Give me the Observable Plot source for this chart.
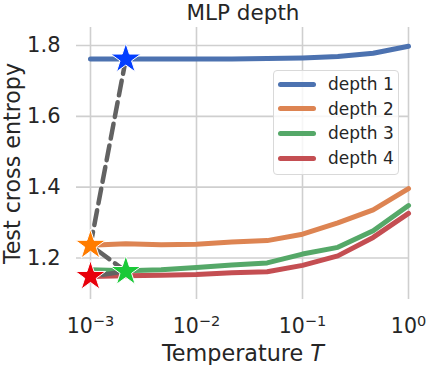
<!DOCTYPE html>
<html>
<head>
<meta charset="utf-8">
<script src="https://cdn.jsdelivr.net/npm/d3@7"></script>
<script src="https://cdn.jsdelivr.net/npm/@observablehq/plot@0.6"></script>
<style>
  html, body { margin: 0; padding: 0; background: #fff; }
  #wrap { position: relative; width: 427px; height: 365px; overflow: hidden; font-family: "DejaVu Sans", sans-serif; color: #262626; }
  #wrap svg { position: absolute; left: 0; top: 0; }
  .legend { position: absolute; left: 273px; top: 70px; width: 126px; height: 105px; box-sizing: border-box;
            border: 1.5px solid #d9d9d9; border-radius: 4px; background: rgba(255,255,255,0.8); }
  .legend .sw { position: absolute; left: 4px; width: 38px; height: 5px; border-radius: 2.5px; }
  .legend .lb { position: absolute; left: 54px; height: 24px; line-height: 24px; font-size: 17px; white-space: nowrap; }
</style>
</head>
<body>
<div id="wrap"></div>
<script>
// ---- data ----
const temperatures = [0.001, 0.002154, 0.004642, 0.01, 0.02154, 0.04642, 0.1, 0.2154, 0.4642, 1];
const depth1 = [1.762, 1.762, 1.762, 1.762, 1.762, 1.763, 1.765, 1.769, 1.778, 1.798];
const depth2 = [1.236, 1.240, 1.237, 1.239, 1.245, 1.249, 1.267, 1.299, 1.336, 1.396];
const depth3 = [1.167, 1.164, 1.167, 1.173, 1.180, 1.186, 1.211, 1.230, 1.277, 1.348];
const depth4 = [1.148, 1.150, 1.151, 1.153, 1.158, 1.161, 1.179, 1.206, 1.258, 1.326];
const seriesLabels = ["depth 1", "depth 2", "depth 3", "depth 4"];
const lineColors = ["#4c72b0", "#dd8452", "#55a868", "#c44e52"];
// best temperature per depth (stars)
const bestT = [0.002154, 0.001, 0.002154, 0.001];
const bestVal = [1.762, 1.236, 1.162, 1.148];
const starColors = ["#023eff", "#ff7c00", "#1ac938", "#e8000b"];
const xTicks = [0.001, 0.01, 0.1, 1];
const yTicks = [1.2, 1.4, 1.6, 1.8];
const titleText = "MLP depth";
const xLabel = "Temperature T";
const yLabel = "Test cross entropy";

// ---- build ----
const allSeries = [depth1, depth2, depth3, depth4];
const lineMarks = allSeries.map((vals, i) =>
  Plot.line(vals.map((v, j) => ({T: temperatures[j], v})), {
    x: "T", y: "v", stroke: lineColors[i], strokeWidth: 5, strokeLinecap: "round", strokeLinejoin: "round"
  })
);
const stars = bestT.map((T, i) => ({T, v: bestVal[i], c: starColors[i]}));
const starMarks = stars.map(s =>
  Plot.dot([s], {x: "T", y: "v", symbol: "star", r: 9.5, fill: s.c, stroke: "white", strokeWidth: 1})
);
const expLabel = d => "E" + String(Math.round(Math.log10(d)));

const chart = Plot.plot({
  width: 427, height: 365,
  marginLeft: 76, marginRight: 18, marginTop: 27, marginBottom: 66,
  style: {fontFamily: "DejaVu Sans, sans-serif", color: "#262626", background: "transparent", overflow: "visible"},
  x: {type: "log", domain: [Math.pow(10, -3.132), Math.pow(10, 0.0094)], axis: null},
  y: {domain: [1.0827, 1.8509], axis: null},
  marks: [
    Plot.gridX(xTicks, {stroke: "#cfcfcf", strokeOpacity: 1, strokeWidth: 1.6}),
    Plot.gridY(yTicks, {stroke: "#cfcfcf", strokeOpacity: 1, strokeWidth: 1.6}),
    Plot.axisY(yTicks, {tickSize: 0, tickPadding: 16, tickFormat: d3.format(".1f"), fontSize: 21, label: null, fill: "#262626"}),
    Plot.text(xTicks, {x: d => d, frameAnchor: "bottom", lineAnchor: "bottom", dy: 33,
      text: expLabel, fontSize: 20.5, fill: "#262626"}),
    ...lineMarks,
    Plot.line(stars, {x: "T", y: "v", stroke: "#626262", strokeWidth: 4.5, strokeDasharray: "15,7"}),
    ...starMarks,
    Plot.text([titleText], {frameAnchor: "top", lineAnchor: "bottom", dy: -8, fontSize: 21.5, fill: "#262626"}),
    Plot.text([xLabel], {frameAnchor: "bottom", lineAnchor: "bottom", dy: 61, fontSize: 22.3, fill: "#262626"}),
    Plot.text([yLabel], {frameAnchor: "left", textAnchor: "middle", rotate: -90, dx: -63.5, fontSize: 22.2, fill: "#262626"})
  ]
});

const wrap = document.getElementById("wrap");
wrap.appendChild(chart);

const SVGNS = "http://www.w3.org/2000/svg";
const expSet = new Set(xTicks.map(expLabel));
chart.querySelectorAll("text").forEach(t => {
  const s = t.textContent;
  if (expSet.has(s)) {
    // superscript exponent
    t.textContent = "10";
    const ts = document.createElementNS(SVGNS, "tspan");
    ts.setAttribute("dy", "-7");
    ts.setAttribute("font-size", "14.5");
    ts.textContent = s.slice(1).replace("-", "\u2212");
    t.appendChild(ts);
  } else if (s === xLabel) {
    t.textContent = s.slice(0, s.length - 1);
    const ts = document.createElementNS(SVGNS, "tspan");
    ts.setAttribute("font-style", "italic");
    ts.textContent = s.slice(-1);
    t.appendChild(ts);
  }
});

// legend
const leg = document.createElement("div");
leg.className = "legend";
seriesLabels.forEach((lab, i) => {
  const cy = 13 + i * 24.7;
  const sw = document.createElement("div");
  sw.className = "sw";
  sw.style.top = (cy - 2.5) + "px";
  sw.style.background = lineColors[i];
  const lb = document.createElement("div");
  lb.className = "lb";
  lb.style.top = (cy - 12) + "px";
  lb.textContent = lab;
  leg.appendChild(sw);
  leg.appendChild(lb);
});
wrap.appendChild(leg);
</script>
</body>
</html>
